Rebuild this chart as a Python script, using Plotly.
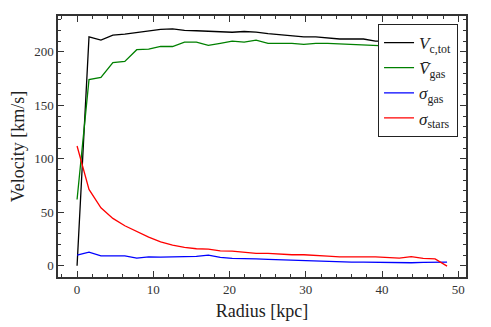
import plotly.graph_objects as go

# radius of each annulus [kpc]
radius = [i * 1.565 for i in range(32)]

v_c_tot = [0, 214, 211, 215.6, 216.5, 218, 219.6, 221, 221.5, 220, 219.7, 219,
           218.5, 218.3, 219, 218.5, 217, 216, 215, 214, 214, 213, 212, 212,
           212, 210, 210, 209, 209, 208, 208, 207]
v_gas = [62, 174, 176, 190, 191, 202, 202.5, 205, 205, 209, 209, 206,
         208, 210, 209, 211, 208, 208, 208, 207, 208, 208, 207.5, 207,
         206.5, 206, 205.5, 205, 205, 204, 204, 203]
sigma_gas = [10, 12.8, 9.3, 9.3, 9.3, 7.2, 8.4, 8.1, 8.1, 8.1, 8.7, 9.9,
             7.8, 6.9, 6.9, 6.5, 6.0, 5.6, 5.3, 4.7, 4.0, 4.0, 3.7, 3.4,
             3.4, 3.1, 2.8, 3.1, 2.8, 3.1, 3.1, 3.4]
sigma_stars = [112, 71.4, 54.2, 44.3, 37.4, 31.8, 26.8, 22.4, 19.3, 17.2, 15.9, 15.6,
               14.0, 13.7, 12.8, 11.6, 11.6, 10.9, 10.3, 10.3, 9.3, 9.0, 8.4, 8.7,
               8.4, 8.4, 8.1, 7.2, 8.5, 6.9, 6.5, -0.3]

series = [
    (v_c_tot, "black", "<i>V</i><sub>c,tot</sub>"),
    (v_gas, "green", "<i>V̄</i><sub>gas</sub>"),
    (sigma_gas, "blue", "<i>σ</i><sub>gas</sub>"),
    (sigma_stars, "red", "<i>σ</i><sub>stars</sub>"),
]

fig = go.Figure()
for vals, col, name in series:
    fig.add_trace(go.Scatter(x=radius, y=vals, mode="lines", name=name,
                             line=dict(color=col, width=1.3)))

axis_style = dict(
    showgrid=False, zeroline=False, showline=True, linecolor="#333", linewidth=1.5,
    mirror="allticks", ticks="inside", ticklen=6, tickwidth=1, tickcolor="#333",
    tickfont=dict(size=13, color="#333"), automargin=False,
)

fig.update_xaxes(range=[-2.5, 51], dtick=10, tick0=0,
                 minor=dict(dtick=2, ticks="inside", ticklen=3, tickcolor="#333"),
                 title=dict(text="Radius [kpc]", font=dict(size=18, color="#222"), standoff=8),
                 **axis_style)
fig.update_yaxes(range=[-10.5, 233.5], dtick=50, tick0=0,
                 minor=dict(dtick=10, ticks="inside", ticklen=3, tickcolor="#333"),
                 title=dict(text="Velocity [km/s]", font=dict(size=18, color="#222"), standoff=7),
                 **axis_style)

# page body has an 8px margin, so the figure is shifted accordingly
fig.update_layout(
    width=483, height=319,
    margin=dict(l=50, r=25, t=8, b=50),
    plot_bgcolor="white", paper_bgcolor="white",
    font=dict(family="Liberation Serif, DejaVu Serif, serif", color="#222"),
    showlegend=True,
    legend=dict(x=0.98, y=0.97, xanchor="right", yanchor="top",
                bgcolor="white", bordercolor="#222", borderwidth=1.2,
                font=dict(size=17), tracegroupgap=0, itemwidth=30),
)

fig.write_html("out.html")
